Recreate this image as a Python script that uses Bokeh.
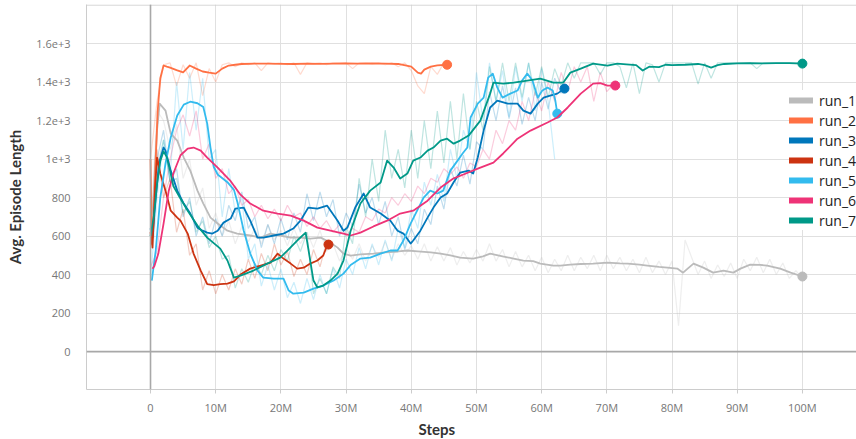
from bokeh.plotting import figure
from bokeh.models import FixedTicker, Span, Legend, LegendItem, Title
from bokeh.embed import file_html
from bokeh.resources import INLINE

FONT = "Open Sans"
TITLE_FONT = "Lato"

run_names = ["run_1", "run_2", "run_3", "run_4", "run_5", "run_6", "run_7"]
run_colors = ["#bbbbbb", "#ff7043", "#0077bb", "#cc3311", "#33bbee", "#ee3377", "#009988"]

# steps are in millions
x_ticks = [0, 10, 20, 30, 40, 50, 60, 70, 80, 90, 100]
x_tick_labels = ["0", "10M", "20M", "30M", "40M", "50M", "60M", "70M", "80M", "90M", "100M"]
y_ticks = [0, 200, 400, 600, 800, 1000, 1200, 1400, 1600]
y_tick_labels = ["0", "200", "400", "600", "800", "1e+3", "1.2e+3", "1.4e+3", "1.6e+3"]

# ---- smoothed curves (step in M, avg episode length) ----
r1_steps = [0.2, 0.6, 1.0, 1.4, 2.3, 3.1, 4.1, 5.1, 6.1, 7.2,
            8.1, 9.2, 10.3, 11.8, 13.3, 15.3, 16.9, 18.4, 19.9, 21.5,
            23.0, 24.5, 26.1, 27.6, 28.7, 29.6, 30.7, 32.2, 34.2, 36.0,
            38.0, 39.4, 41.0, 43.0, 44.5, 46.0, 47.5, 49.5, 51.0, 52.1,
            54.0, 55.7, 57.2, 58.7, 59.8, 61.8, 62.9, 64.4, 66.0, 67.9,
            70.1, 72.0, 73.2, 75.0, 76.2, 78.0, 79.3, 80.8, 81.7, 82.4,
            83.3, 84.8, 86.3, 87.9, 89.4, 90.5, 92.0, 93.5, 94.6, 96.6,
            98.2, 100.0]
r1_smooth = [620, 900, 1150, 1288, 1252, 1132, 1096, 1008, 940, 836,
             769, 696, 665, 628, 613, 603, 592, 613, 603, 592,
             592, 587, 592, 566, 540, 509, 499, 505, 509, 515,
             520, 525, 520, 515, 509, 500, 488, 483, 495, 509,
             495, 483, 473, 470, 457, 447, 447, 452, 455, 457,
             462, 458, 457, 452, 447, 440, 436, 431, 410, 431,
             457, 436, 410, 421, 410, 431, 452, 450, 447, 431,
             410, 390]

r2_steps = [0.0, 0.2, 0.5, 0.8, 1.1, 1.5, 2.0, 2.5, 3.0, 4.0,
            5.0, 6.0, 7.0, 8.0, 9.0, 10.0, 11.0, 12.0, 13.0, 14.0,
            16.0, 18.0, 20.0, 22.0, 24.0, 26.0, 28.0, 30.0, 32.0, 34.0,
            36.0, 38.0, 40.0, 41.0, 41.5, 42.0, 43.0, 44.0, 45.5]
r2_smooth = [1000, 560, 700, 1000, 1250, 1420, 1486, 1480, 1475, 1462,
             1450, 1486, 1470, 1455, 1449, 1444, 1470, 1486, 1490, 1494,
             1496, 1496, 1495, 1494, 1496, 1495, 1496, 1497, 1496, 1497,
             1496, 1494, 1480, 1449, 1444, 1465, 1480, 1487, 1490]

r3_steps = [0.0, 0.3, 0.8, 1.3, 2.0, 2.3, 3.1, 4.1, 5.1, 6.1,
            7.2, 8.0, 8.7, 9.5, 10.3, 11.2, 12.3, 13.0, 14.3, 15.3,
            16.4, 17.3, 18.9, 20.4, 21.9, 23.0, 24.2, 25.6, 27.1, 28.7,
            29.6, 30.2, 31.4, 32.7, 33.7, 35.3, 36.8, 37.9, 38.8, 39.9,
            40.3, 41.4, 42.5, 43.4, 44.5, 45.5, 46.5, 47.5, 48.8, 49.5,
            50.2, 51.1, 52.1, 53.2, 54.8, 56.3, 57.2, 58.3, 59.4, 60.3,
            61.3, 62.4, 63.5]
r3_smooth = [640, 592, 800, 980, 1060, 1044, 940, 836, 769, 717,
             644, 628, 618, 613, 628, 670, 691, 743, 748, 680,
             592, 592, 603, 613, 639, 680, 748, 743, 758, 680,
             628, 644, 748, 821, 748, 717, 680, 628, 613, 561,
             577, 628, 696, 748, 800, 821, 880, 930, 940, 925,
             1008, 1148, 1268, 1304, 1288, 1288, 1252, 1236, 1288, 1319,
             1330, 1340, 1366]

r4_steps = [0.0, 0.3, 0.7, 1.0, 1.5, 2.3, 3.1, 4.1, 4.6, 5.7,
            6.6, 7.7, 8.7, 9.7, 10.7, 11.8, 12.8, 13.8, 15.3, 16.9,
            18.4, 19.5, 20.2, 21.5, 22.5, 23.5, 24.5, 25.6, 26.5, 27.1,
            27.3]
r4_smooth = [620, 540, 850, 1008, 925, 836, 732, 696, 680, 613,
             509, 421, 350, 345, 350, 353, 365, 400, 431, 447,
             462, 509, 488, 457, 431, 436, 457, 473, 499, 551,
             556]

r5_steps = [0.2, 0.8, 1.5, 2.3, 3.1, 4.1, 5.1, 6.1, 7.2, 8.1,
            8.7, 9.2, 9.7, 10.3, 11.8, 12.8, 13.3, 14.3, 15.3, 16.4,
            17.3, 18.9, 20.4, 21.2, 21.9, 23.5, 25.0, 26.5, 28.1, 29.6,
            30.7, 32.2, 33.7, 35.3, 36.8, 37.9, 38.8, 39.9, 40.9, 41.9,
            42.9, 44.0, 44.9, 46.0, 47.1, 47.9, 48.6, 49.1, 50.2, 51.1,
            51.8, 52.5, 53.2, 54.0, 55.2, 56.3, 57.0, 57.8, 58.6, 59.4,
            60.1, 60.9, 61.7, 62.1, 62.4]
r5_smooth = [369, 525, 800, 977, 1112, 1226, 1283, 1298, 1290, 1270,
             1184, 1060, 960, 920, 880, 840, 780, 628, 509, 421,
             384, 379, 379, 317, 301, 306, 327, 343, 369, 405,
             450, 483, 488, 509, 525, 525, 577, 665, 732, 800,
             836, 821, 836, 940, 992, 1030, 1060, 1216, 1288, 1319,
             1423, 1444, 1371, 1319, 1340, 1356, 1408, 1444, 1408, 1319,
             1356, 1371, 1356, 1304, 1236]

r6_steps = [0.3, 0.6, 1.2, 2.0, 2.8, 3.5, 4.6, 5.7, 6.6, 7.7,
            8.7, 10.3, 12.3, 13.8, 15.3, 17.3, 19.5, 21.5, 23.5, 25.6,
            27.6, 29.6, 30.7, 32.2, 34.2, 36.3, 38.3, 40.3, 42.5, 44.5,
            46.5, 48.0, 50.2, 52.6, 54.1, 56.3, 58.3, 60.9, 62.4, 64.0,
            66.0, 67.9, 69.0, 70.1, 71.3]
r6_smooth = [430, 445, 509, 665, 836, 925, 1020, 1054, 1060, 1044,
             1008, 956, 885, 815, 769, 732, 717, 706, 680, 644,
             628, 613, 603, 618, 650, 680, 717, 732, 784, 852,
             900, 920, 950, 982, 1029, 1106, 1148, 1190, 1216, 1268,
             1340, 1392, 1395, 1382, 1382]

r7_steps = [0.0, 0.5, 1.0, 1.5, 2.0, 2.5, 3.0, 3.5, 4.5, 5.7,
            7.4, 8.7, 10.7, 11.8, 12.8, 13.8, 15.8, 17.9, 19.9, 21.0,
            22.5, 23.8, 24.5, 25.0, 25.6, 26.5, 27.6, 28.7, 29.6, 30.7,
            32.2, 33.7, 35.3, 36.3, 37.3, 38.3, 39.4, 40.3, 41.4, 42.5,
            43.4, 44.5, 45.5, 46.5, 47.5, 48.8, 50.6, 52.1, 52.6, 54.1,
            55.7, 57.8, 59.8, 61.8, 63.3, 64.4, 66.0, 67.9, 70.1, 71.6,
            73.0, 74.5, 75.5, 76.5, 78.0, 79.0, 80.0, 82.0, 84.0, 85.0,
            86.0, 87.0, 88.0, 90.0, 92.0, 94.0, 96.0, 98.0, 100.0]
r7_smooth = [600, 700, 870, 990, 1040, 1010, 940, 860, 800, 732,
             645, 592, 535, 473, 384, 395, 421, 457, 488, 525,
             577, 618, 473, 369, 333, 343, 369, 405, 473, 628,
             769, 836, 878, 992, 956, 899, 925, 992, 1008, 1044,
             1060, 1096, 1106, 1080, 1096, 1122, 1200, 1340, 1397, 1392,
             1397, 1408, 1418, 1397, 1397, 1449, 1470, 1496, 1486, 1496,
             1492, 1488, 1460, 1480, 1478, 1490, 1488, 1490, 1494, 1488,
             1475, 1488, 1494, 1497, 1498, 1497, 1498, 1498, 1496]

# ---- raw (unsmoothed) values, one per 1M steps ----
r1_raw = [600, 1250, 1200, 1050, 1180, 900, 1000, 760, 850, 640,
          720, 600, 680, 560, 650, 570, 640, 560, 660, 580,
          630, 550, 640, 560, 620, 540, 630, 520, 560, 470,
          540, 480, 560, 470, 550, 490, 570, 480, 560, 500,
          550, 480, 560, 470, 545, 470, 540, 450, 520, 460,
          530, 470, 560, 470, 530, 440, 520, 440, 500, 420,
          490, 410, 480, 420, 500, 420, 490, 430, 500, 420,
          500, 430, 490, 420, 480, 410, 490, 410, 470, 400,
          470, 135, 580, 490, 400, 470, 380, 450, 390, 460,
          380, 480, 420, 490, 410, 480, 400, 460, 380, 420,
          380]
r2_raw = [1000, 1300, 1490, 1500, 1380, 1490, 1420, 1500, 1330, 1470,
          1400, 1490, 1500, 1480, 1500, 1490, 1500, 1460, 1500, 1495,
          1500, 1490, 1500, 1440, 1500, 1495, 1500, 1490, 1500, 1498,
          1500, 1470, 1500, 1500, 1495, 1500, 1490, 1500, 1480, 1500,
          1460, 1380, 1340, 1480, 1440, 1500]
r3_raw = [560, 1000, 1150, 880, 950, 700, 800, 600, 700, 560,
          690, 600, 760, 680, 830, 640, 700, 540, 660, 560,
          690, 580, 720, 620, 820, 680, 830, 700, 790, 600,
          720, 650, 870, 720, 800, 660, 780, 600, 700, 530,
          640, 560, 740, 660, 860, 740, 950, 860, 1020, 870,
          1090, 1050, 1350, 1200, 1380, 1210, 1370, 1180, 1320, 1200,
          1400, 1260, 1420, 1340]
r4_raw = [600, 1050, 800, 900, 620, 740, 500, 560, 320, 420,
          300, 400, 320, 430, 350, 480, 380, 510, 420, 560,
          450, 520, 390, 480, 400, 530, 440, 570]
r5_raw = [370, 800, 1100, 900, 1400, 1050, 1450, 1150, 1420, 1000,
          1050, 700, 950, 720, 800, 480, 560, 340, 450, 320,
          430, 280, 360, 250, 380, 270, 400, 300, 430, 330,
          480, 400, 540, 430, 560, 450, 580, 470, 640, 540,
          740, 640, 880, 760, 920, 780, 1050, 900, 1150, 1050,
          1450, 1200, 1500, 1300, 1460, 1220, 1480, 1300, 1500, 1250,
          1470, 1300, 1000]
r6_raw = [440, 520, 800, 1000, 1150, 1230, 1120, 1250, 1000, 1080,
          900, 950, 820, 860, 760, 790, 700, 760, 690, 740,
          680, 760, 700, 720, 650, 700, 640, 680, 620, 660,
          600, 640, 620, 700, 680, 740, 720, 800, 760, 820,
          780, 860, 820, 900, 880, 950, 920, 960, 900, 980,
          960, 1050, 1000, 1150, 1080, 1200, 1150, 1300, 1200, 1350,
          1250, 1400, 1300, 1450, 1350, 1480, 1400, 1480, 1300, 1450,
          1350, 1390]
r7_raw = [600, 950, 1100, 880, 900, 720, 780, 620, 680, 540,
          600, 480, 500, 330, 430, 360, 460, 400, 500, 420,
          530, 470, 600, 520, 620, 300, 380, 300, 440, 380,
          650, 560, 900, 700, 1000, 780, 1150, 900, 1050, 850,
          1150, 900, 1200, 950, 1250, 980, 1300, 1000, 1340, 1050,
          1300, 1150, 1480, 1300, 1500, 1300, 1500, 1320, 1500, 1330,
          1480, 1320, 1470, 1380, 1500, 1420, 1500, 1500, 1500, 1440,
          1500, 1500, 1480, 1370, 1500, 1340, 1500, 1490, 1400, 1500,
          1500, 1500, 1500, 1500, 1390, 1500, 1420, 1500, 1500, 1500,
          1500, 1500, 1500, 1470, 1500, 1500, 1500, 1500, 1500, 1500,
          1500]

smoothed = [(r1_steps, r1_smooth), (r2_steps, r2_smooth), (r3_steps, r3_smooth),
            (r4_steps, r4_smooth), (r5_steps, r5_smooth), (r6_steps, r6_smooth),
            (r7_steps, r7_smooth)]
raws = [r1_raw, r2_raw, r3_raw, r4_raw, r5_raw, r6_raw, r7_raw]

p = figure(width=856, height=439, x_range=(-9.82, 108.3), y_range=(-197, 1803),
           output_backend="svg", toolbar_location=None, tools="",
           min_border_left=86, min_border_right=0, min_border_top=4, min_border_bottom=50)
p.outline_line_color = None
p.background_fill_color = "white"
p.border_fill_color = "white"

# grid
p.xgrid.ticker = FixedTicker(ticks=x_ticks)
p.ygrid.ticker = FixedTicker(ticks=y_ticks)
p.xgrid.grid_line_color = "#e0e0e0"
p.ygrid.grid_line_color = "#e0e0e0"

# axes
p.xaxis.ticker = FixedTicker(ticks=x_ticks)
p.xaxis.major_label_overrides = dict(zip(x_ticks, x_tick_labels))
p.yaxis.ticker = FixedTicker(ticks=y_ticks)
p.yaxis.major_label_overrides = dict(zip(y_ticks, y_tick_labels))
for ax in (p.xaxis[0], p.yaxis[0]):
    ax.axis_line_color = "#cccccc"
    ax.minor_tick_line_color = None
    ax.major_label_text_font = FONT
    ax.major_label_text_font_size = "11px"
    ax.major_label_text_color = "#777777"
p.xaxis.major_tick_in = 0
p.xaxis.major_tick_out = 4
p.xaxis.major_tick_line_color = "#cccccc"
p.xaxis.major_label_standoff = 6
p.yaxis.major_tick_line_color = None
p.yaxis.major_label_standoff = 10
p.yaxis.axis_label = "Avg. Episode Length"
p.yaxis.axis_label_text_font = TITLE_FONT
p.yaxis.axis_label_text_font_size = "15px"
p.yaxis.axis_label_text_font_style = "bold"
p.yaxis.axis_label_text_color = "#333333"
p.yaxis.axis_label_standoff = 9

# x axis title sits left of the frame centre
p.add_layout(Title(text="Steps", align="left", offset=332, standoff=0,
                   text_font=TITLE_FONT, text_font_size="15px", text_font_style="bold",
                   text_color="#333333"), "below")

# frame top edge and zero lines
p.add_layout(Span(location=1800, dimension="width", line_color="#cccccc", line_width=1))
p.add_layout(Span(location=0, dimension="width", line_color="#a8a8a8", line_width=1.6))
p.add_layout(Span(location=0, dimension="height", line_color="#a8a8a8", line_width=1.6))

# raw traces underneath
for raw, color in zip(raws, run_colors):
    p.line(list(range(len(raw))), raw, line_color=color, line_alpha=0.25, line_width=1.2)

# smoothed traces with end markers; a thick zero-length stroke under each
# end marker supplies the legend swatch
items = []
for (steps, vals), color, name in zip(smoothed, run_colors, run_names):
    p.line(steps, vals, line_color=color, line_width=1.8, line_join="round")
    swatch = p.line([steps[-1], steps[-1]], [vals[-1], vals[-1]], line_color=color,
                    line_width=6, line_cap="round")
    p.scatter([steps[-1]], [vals[-1]], size=9, fill_color=color, line_color=color)
    items.append(LegendItem(label=name, renderers=[swatch]))

legend = Legend(items=items, location=(703, 159), glyph_width=24, glyph_height=20,
                label_height=20, spacing=0, padding=6, margin=0, label_standoff=6,
                label_text_font=FONT, label_text_font_size="14px",
                label_text_color="#222222", border_line_color=None,
                background_fill_color="white", background_fill_alpha=1.0)
p.add_layout(legend)

open("out.html", "w").write(file_html(p, INLINE))
